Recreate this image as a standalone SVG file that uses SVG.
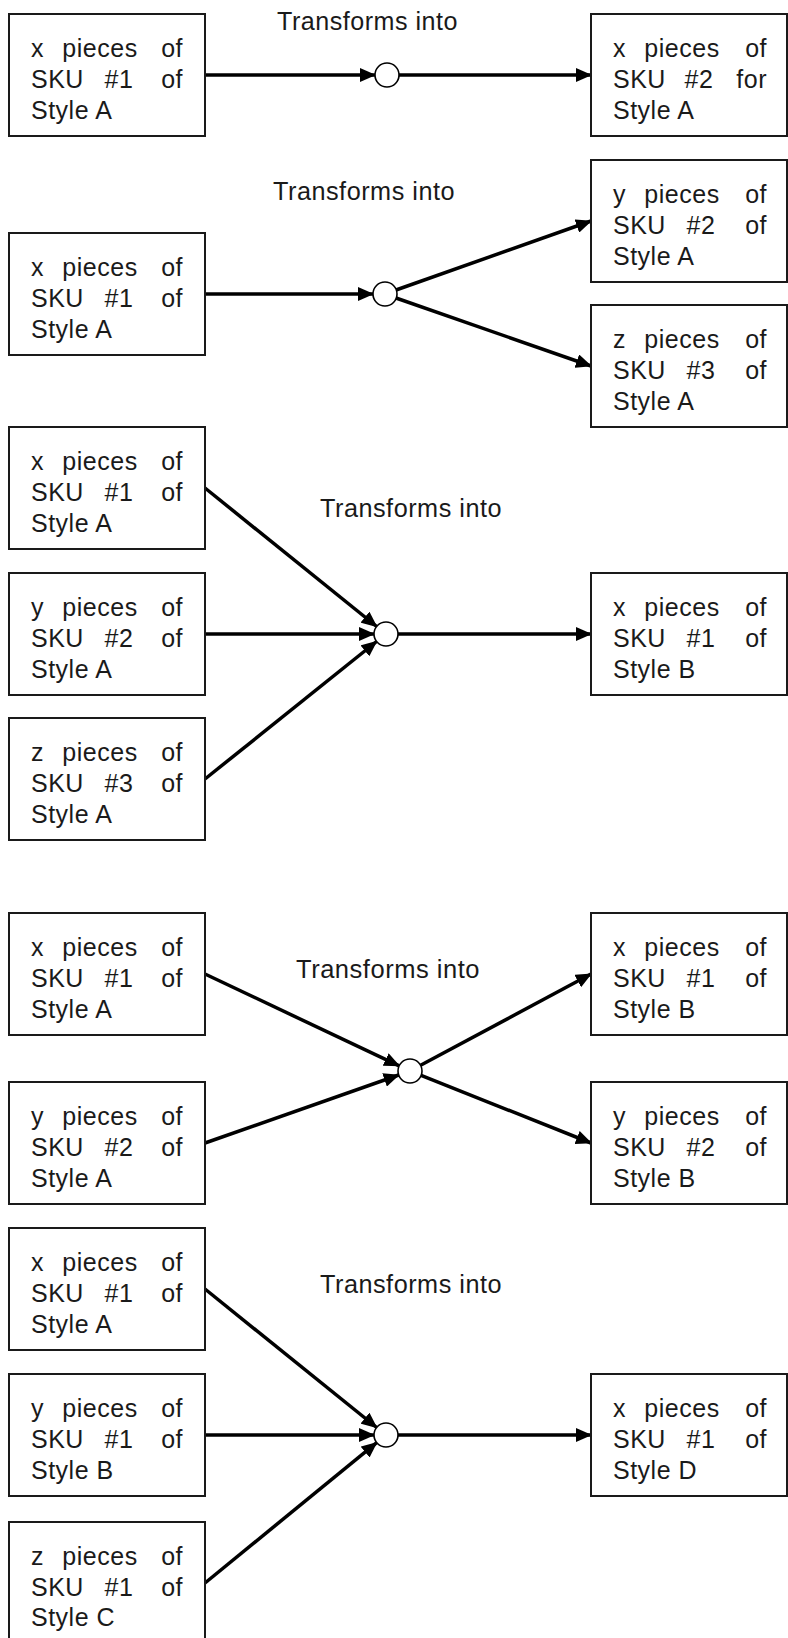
<svg xmlns="http://www.w3.org/2000/svg" width="788" height="1638" viewBox="0 0 788 1638">
<style>
rect.box{fill:#fff;stroke:#1a1a1a;stroke-width:2}
text{font-family:"Liberation Sans",Arial,sans-serif;font-size:25px;fill:#1a1a1a;letter-spacing:0.5px}
tspan.m{text-anchor:middle}
tspan.e{text-anchor:end}
.title{font-family:"Liberation Sans",Arial,sans-serif;font-size:25px;fill:#1a1a1a}
.conn line{stroke:#000;stroke-width:3.5;marker-end:url(#ah)}
circle.hub{fill:#fff;stroke:#000;stroke-width:1.6}
</style>
<defs>
<marker id="ah" markerWidth="16" markerHeight="14" refX="15" refY="7" orient="auto" markerUnits="userSpaceOnUse"><path d="M0,0 L16,7 L0,14 Z" fill="#000"/></marker>
</defs>
<rect width="788" height="1638" fill="#fff"/>

<g id="connectors" class="conn">
<line x1="205" y1="75" x2="375" y2="75"/>
<line x1="399" y1="75" x2="591" y2="75"/>
<line x1="205" y1="294" x2="373" y2="294"/>
<line x1="396" y1="290" x2="591" y2="221"/>
<line x1="396" y1="298" x2="591" y2="366"/>
<line x1="205" y1="488" x2="376.7" y2="626.5"/>
<line x1="205" y1="634" x2="374" y2="634"/>
<line x1="205" y1="779" x2="376.6" y2="641.5"/>
<line x1="398" y1="634" x2="591" y2="634"/>
<line x1="205" y1="974" x2="399.2" y2="1065.9"/>
<line x1="205" y1="1143" x2="398.7" y2="1075"/>
<line x1="420.6" y1="1065.3" x2="591" y2="974"/>
<line x1="421.1" y1="1075.4" x2="591" y2="1143"/>
<line x1="205" y1="1289" x2="376.7" y2="1427.5"/>
<line x1="205" y1="1435" x2="374" y2="1435"/>
<line x1="205" y1="1583" x2="376.7" y2="1442.6"/>
<line x1="398" y1="1435" x2="591" y2="1435"/>
</g>

<g id="hubs">
<circle id="hub1" class="hub" cx="387" cy="75" r="12"/>
<circle id="hub2" class="hub" cx="385" cy="294" r="12"/>
<circle id="hub3" class="hub" cx="386" cy="634" r="12"/>
<circle id="hub4" class="hub" cx="410" cy="1071" r="12"/>
<circle id="hub5" class="hub" cx="386" cy="1435" r="12"/>
</g>

<g id="labels">
<text class="title" x="277" y="30" textLength="181" lengthAdjust="spacingAndGlyphs">Transforms into</text>
<text class="title" x="273" y="200" textLength="182" lengthAdjust="spacingAndGlyphs">Transforms into</text>
<text class="title" x="320" y="517" textLength="182" lengthAdjust="spacingAndGlyphs">Transforms into</text>
<text class="title" x="296" y="978" textLength="184" lengthAdjust="spacingAndGlyphs">Transforms into</text>
<text class="title" x="320" y="1293" textLength="182" lengthAdjust="spacingAndGlyphs">Transforms into</text>
</g>

<!-- Row 1 -->
<g id="r1-in">
<rect class="box" x="9" y="14" width="196" height="122"/>
<text><tspan x="31" y="57">x</tspan><tspan class="m" x="100" y="57">pieces</tspan><tspan class="e" x="183" y="57">of</tspan><tspan x="31" y="88">SKU</tspan><tspan class="m" x="119" y="88">#1</tspan><tspan class="e" x="183" y="88">of</tspan><tspan x="31" y="119">Style A</tspan></text>
</g>
<g id="r1-out">
<rect class="box" x="591" y="14" width="196" height="122"/>
<text><tspan x="613" y="57">x</tspan><tspan class="m" x="682" y="57">pieces</tspan><tspan class="e" x="767" y="57">of</tspan><tspan x="613" y="88">SKU</tspan><tspan class="m" x="699" y="88">#2</tspan><tspan class="e" x="767" y="88">for</tspan><tspan x="613" y="119">Style A</tspan></text>
</g>

<!-- Row 2 -->
<g id="r2-in">
<rect class="box" x="9" y="233" width="196" height="122"/>
<text><tspan x="31" y="276">x</tspan><tspan class="m" x="100" y="276">pieces</tspan><tspan class="e" x="183" y="276">of</tspan><tspan x="31" y="307">SKU</tspan><tspan class="m" x="119" y="307">#1</tspan><tspan class="e" x="183" y="307">of</tspan><tspan x="31" y="338">Style A</tspan></text>
</g>
<g id="r2-out1">
<rect class="box" x="591" y="160" width="196" height="122"/>
<text><tspan x="613" y="203">y</tspan><tspan class="m" x="682" y="203">pieces</tspan><tspan class="e" x="767" y="203">of</tspan><tspan x="613" y="234">SKU</tspan><tspan class="m" x="701" y="234">#2</tspan><tspan class="e" x="767" y="234">of</tspan><tspan x="613" y="265">Style A</tspan></text>
</g>
<g id="r2-out2">
<rect class="box" x="591" y="305" width="196" height="122"/>
<text><tspan x="613" y="348">z</tspan><tspan class="m" x="682" y="348">pieces</tspan><tspan class="e" x="767" y="348">of</tspan><tspan x="613" y="379">SKU</tspan><tspan class="m" x="701" y="379">#3</tspan><tspan class="e" x="767" y="379">of</tspan><tspan x="613" y="410">Style A</tspan></text>
</g>

<!-- Row 3 -->
<g id="r3-in1">
<rect class="box" x="9" y="427" width="196" height="122"/>
<text><tspan x="31" y="470">x</tspan><tspan class="m" x="100" y="470">pieces</tspan><tspan class="e" x="183" y="470">of</tspan><tspan x="31" y="501">SKU</tspan><tspan class="m" x="119" y="501">#1</tspan><tspan class="e" x="183" y="501">of</tspan><tspan x="31" y="532">Style A</tspan></text>
</g>
<g id="r3-in2">
<rect class="box" x="9" y="573" width="196" height="122"/>
<text><tspan x="31" y="616">y</tspan><tspan class="m" x="100" y="616">pieces</tspan><tspan class="e" x="183" y="616">of</tspan><tspan x="31" y="647">SKU</tspan><tspan class="m" x="119" y="647">#2</tspan><tspan class="e" x="183" y="647">of</tspan><tspan x="31" y="678">Style A</tspan></text>
</g>
<g id="r3-in3">
<rect class="box" x="9" y="718" width="196" height="122"/>
<text><tspan x="31" y="761">z</tspan><tspan class="m" x="100" y="761">pieces</tspan><tspan class="e" x="183" y="761">of</tspan><tspan x="31" y="792">SKU</tspan><tspan class="m" x="119" y="792">#3</tspan><tspan class="e" x="183" y="792">of</tspan><tspan x="31" y="823">Style A</tspan></text>
</g>
<g id="r3-out">
<rect class="box" x="591" y="573" width="196" height="122"/>
<text><tspan x="613" y="616">x</tspan><tspan class="m" x="682" y="616">pieces</tspan><tspan class="e" x="767" y="616">of</tspan><tspan x="613" y="647">SKU</tspan><tspan class="m" x="701" y="647">#1</tspan><tspan class="e" x="767" y="647">of</tspan><tspan x="613" y="678">Style B</tspan></text>
</g>

<!-- Row 4 -->
<g id="r4-in1">
<rect class="box" x="9" y="913" width="196" height="122"/>
<text><tspan x="31" y="956">x</tspan><tspan class="m" x="100" y="956">pieces</tspan><tspan class="e" x="183" y="956">of</tspan><tspan x="31" y="987">SKU</tspan><tspan class="m" x="119" y="987">#1</tspan><tspan class="e" x="183" y="987">of</tspan><tspan x="31" y="1018">Style A</tspan></text>
</g>
<g id="r4-in2">
<rect class="box" x="9" y="1082" width="196" height="122"/>
<text><tspan x="31" y="1125">y</tspan><tspan class="m" x="100" y="1125">pieces</tspan><tspan class="e" x="183" y="1125">of</tspan><tspan x="31" y="1156">SKU</tspan><tspan class="m" x="119" y="1156">#2</tspan><tspan class="e" x="183" y="1156">of</tspan><tspan x="31" y="1187">Style A</tspan></text>
</g>
<g id="r4-out1">
<rect class="box" x="591" y="913" width="196" height="122"/>
<text><tspan x="613" y="956">x</tspan><tspan class="m" x="682" y="956">pieces</tspan><tspan class="e" x="767" y="956">of</tspan><tspan x="613" y="987">SKU</tspan><tspan class="m" x="701" y="987">#1</tspan><tspan class="e" x="767" y="987">of</tspan><tspan x="613" y="1018">Style B</tspan></text>
</g>
<g id="r4-out2">
<rect class="box" x="591" y="1082" width="196" height="122"/>
<text><tspan x="613" y="1125">y</tspan><tspan class="m" x="682" y="1125">pieces</tspan><tspan class="e" x="767" y="1125">of</tspan><tspan x="613" y="1156">SKU</tspan><tspan class="m" x="701" y="1156">#2</tspan><tspan class="e" x="767" y="1156">of</tspan><tspan x="613" y="1187">Style B</tspan></text>
</g>

<!-- Row 5 -->
<g id="r5-in1">
<rect class="box" x="9" y="1228" width="196" height="122"/>
<text><tspan x="31" y="1271">x</tspan><tspan class="m" x="100" y="1271">pieces</tspan><tspan class="e" x="183" y="1271">of</tspan><tspan x="31" y="1302">SKU</tspan><tspan class="m" x="119" y="1302">#1</tspan><tspan class="e" x="183" y="1302">of</tspan><tspan x="31" y="1333">Style A</tspan></text>
</g>
<g id="r5-in2">
<rect class="box" x="9" y="1374" width="196" height="122"/>
<text><tspan x="31" y="1417">y</tspan><tspan class="m" x="100" y="1417">pieces</tspan><tspan class="e" x="183" y="1417">of</tspan><tspan x="31" y="1448">SKU</tspan><tspan class="m" x="119" y="1448">#1</tspan><tspan class="e" x="183" y="1448">of</tspan><tspan x="31" y="1479">Style B</tspan></text>
</g>
<g id="r5-in3">
<rect class="box" x="9" y="1522" width="196" height="122"/>
<text><tspan x="31" y="1565">z</tspan><tspan class="m" x="100" y="1565">pieces</tspan><tspan class="e" x="183" y="1565">of</tspan><tspan x="31" y="1596">SKU</tspan><tspan class="m" x="119" y="1596">#1</tspan><tspan class="e" x="183" y="1596">of</tspan><tspan x="31" y="1626">Style C</tspan></text>
</g>
<g id="r5-out">
<rect class="box" x="591" y="1374" width="196" height="122"/>
<text><tspan x="613" y="1417">x</tspan><tspan class="m" x="682" y="1417">pieces</tspan><tspan class="e" x="767" y="1417">of</tspan><tspan x="613" y="1448">SKU</tspan><tspan class="m" x="701" y="1448">#1</tspan><tspan class="e" x="767" y="1448">of</tspan><tspan x="613" y="1479">Style D</tspan></text>
</g>
</svg>
